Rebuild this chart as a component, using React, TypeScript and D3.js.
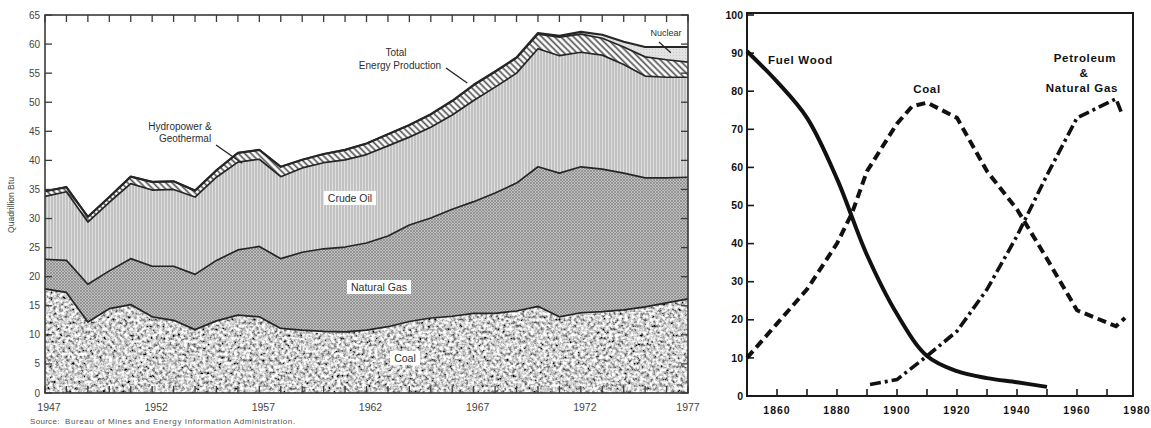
import React from "react";
import * as d3 from "d3";

// ---- left chart: U.S. energy production by source, quadrillion Btu ----
const years = d3.range(1947, 1978);
const coal = [17.9, 17.3, 12.2, 14.5, 15.2, 13.1, 12.5, 10.9, 12.4, 13.4, 13.1, 11.1, 10.8, 10.6, 10.5, 10.8, 11.4, 12.3, 12.9, 13.2, 13.7, 13.7, 14.1, 14.9, 13.1, 13.8, 14.0, 14.3, 14.8, 15.5, 16.2];
const naturalGas = [5.1, 5.5, 6.5, 6.5, 7.9, 8.7, 9.3, 9.5, 10.4, 11.2, 12.1, 12.0, 13.4, 14.2, 14.6, 15.0, 15.6, 16.6, 17.2, 18.4, 19.2, 20.7, 22.0, 24.0, 24.7, 25.1, 24.5, 23.5, 22.2, 21.5, 20.9];
const crudeOil = [10.8, 11.8, 10.7, 11.8, 12.9, 13.1, 13.2, 13.3, 14.3, 15.1, 15.0, 14.1, 14.5, 14.8, 15.0, 15.2, 15.5, 15.1, 15.6, 16.2, 17.4, 18.2, 18.9, 20.3, 20.2, 19.7, 19.6, 18.7, 17.5, 17.3, 17.2];
const hydroGeo = [0.9, 0.8, 0.9, 0.9, 1.2, 1.4, 1.4, 1.1, 1.2, 1.6, 1.6, 1.7, 1.4, 1.5, 1.7, 1.9, 2.0, 2.1, 2.2, 2.4, 2.6, 2.6, 2.6, 2.5, 3.2, 3.1, 2.9, 3.0, 3.3, 3.0, 2.6];
const nuclear = [0, 0, 0, 0, 0, 0, 0, 0, 0, 0, 0, 0, 0, 0, 0, 0, 0, 0, 0.05, 0.05, 0.1, 0.1, 0.1, 0.2, 0.2, 0.4, 0.6, 0.9, 1.7, 2.2, 2.6];
const leftYTicks = d3.range(0, 70, 5);
const leftYearLabels = [1947, 1952, 1957, 1962, 1967, 1972, 1977];

// ---- right chart: share of energy consumption, percent ----
const woodYears = [1850, 1860, 1870, 1880, 1890, 1900, 1910, 1920, 1930, 1940, 1950];
const fuelWood = [90.5, 82.5, 73, 57, 37, 21.5, 10.5, 6.5, 4.7, 3.6, 2.4];
const coalYears = [1850, 1860, 1870, 1880, 1885, 1890, 1900, 1905, 1910, 1920, 1930, 1940, 1950, 1960, 1973, 1976];
const coalShare = [10, 19, 28, 40, 48, 59, 71.5, 76, 77, 73, 59, 49, 36, 22.5, 18.3, 20.5];
const petroYears = [1891, 1900, 1910, 1920, 1930, 1940, 1950, 1960, 1973, 1975];
const petroShare = [3, 4.3, 10.5, 17, 28, 42, 58, 73, 78, 74];
const rightYTicks = d3.range(0, 110, 10);
const rightXTicks = d3.range(1860, 1980, 10);
const rightXLabels = [1860, 1880, 1900, 1920, 1940, 1960, 1980];

const sans = "'Liberation Sans', Arial, Helvetica, sans-serif";
const ink = "#2e2e2e";

function EnergyProduction() {
  const x = d3.scaleLinear().domain([1947, 1977]).range([45, 688]);
  const y = d3.scaleLinear().domain([0, 65]).range([393, 15]);

  const rows = years.map((yr, i) => ({
    year: yr,
    coal: coal[i],
    gas: naturalGas[i],
    oil: crudeOil[i],
    hydro: hydroGeo[i],
    nuclear: nuclear[i],
  }));
  const keys = ["coal", "gas", "oil", "hydro", "nuclear"];
  const series = d3.stack().keys(keys)(rows as any);
  const area = d3
    .area<any>()
    .x((d) => x(d.data.year))
    .y0((d) => y(d[0]))
    .y1((d) => y(d[1]));
  const top = d3
    .line<any>()
    .x((d) => x(d.data.year))
    .y((d) => y(d[1]));
  const fills: Record<string, string> = {
    coal: "#000",
    gas: "url(#gasPat)",
    oil: "url(#oilPat)",
    hydro: "url(#hydroPat)",
    nuclear: "url(#nucPat)",
  };

  const boxLabel = (text: string, cx: number, cy: number, w: number) => (
    <g key={text}>
      <rect x={cx - w / 2} y={cy - 7} width={w} height={14} fill="#fff" />
      <text x={cx} y={cy} dy="0.35em" textAnchor="middle" fontSize={10.5} fill={ink}>
        {text}
      </text>
    </g>
  );

  return (
    <g fontFamily={sans}>
      {series.map((s) => (
        <path
          key={s.key}
          d={area(s) as string}
          fill={fills[s.key]}
          filter={s.key === "coal" ? "url(#stipple)" : undefined}
        />
      ))}
      {series.map((s, i) => (
        <path
          key={"l" + s.key}
          d={top(s) as string}
          fill="none"
          stroke="#262626"
          strokeWidth={i === 4 ? 2.2 : 1.7}
          strokeLinejoin="round"
        />
      ))}

      {/* frame and ticks */}
      <rect x={45} y={15} width={643} height={378} fill="none" stroke="#3a3a3a" strokeWidth={1.6} />
      {years.map((yr) => (
        <g key={yr} stroke="#3a3a3a" strokeWidth={1.3}>
          <line x1={x(yr)} x2={x(yr)} y1={393} y2={386} />
          <line x1={x(yr)} x2={x(yr)} y1={15} y2={22} />
        </g>
      ))}
      {leftYTicks.map((v) => (
        <g key={v}>
          <line x1={45} x2={52} y1={y(v)} y2={y(v)} stroke="#3a3a3a" strokeWidth={1.3} />
          <line x1={688} x2={681} y1={y(v)} y2={y(v)} stroke="#3a3a3a" strokeWidth={1.3} />
          <text x={40} y={y(v)} dy="0.35em" textAnchor="end" fontSize={10} fill="#444">
            {v}
          </text>
        </g>
      ))}
      {leftYearLabels.map((yr, i) => (
        <text
          key={yr}
          x={x(yr) + (i === leftYearLabels.length - 1 ? 0 : 4)}
          y={411}
          textAnchor="middle"
          fontSize={10.5}
          fill="#444"
        >
          {yr}
        </text>
      ))}
      <text
        transform="translate(14,205) rotate(-90)"
        textAnchor="middle"
        fontSize={8.5}
        fill="#444"
      >
        Quadrillion Btu
      </text>
      <text x={30} y={424} fontSize={8} fill="#555" letterSpacing={0.3}>
        Source:
      </text>
      <text x={65} y={424} fontSize={8} fill="#555" letterSpacing={0.6}>
        Bureau of Mines and Energy Information Administration.
      </text>

      {/* annotations */}
      <text x={180} y={130} textAnchor="middle" fontSize={10} fill={ink}>
        Hydropower &amp;
      </text>
      <text x={185} y={142} textAnchor="middle" fontSize={10} fill={ink}>
        Geothermal
      </text>
      <line x1={216} y1={145} x2={x(1956.2)} y2={y(39.5)} stroke="#222" strokeWidth={1.3} />

      <text x={396} y={56} textAnchor="middle" fontSize={10} fill={ink}>
        Total
      </text>
      <text x={400} y={69} textAnchor="middle" fontSize={10} fill={ink}>
        Energy Production
      </text>
      <line x1={446} y1={68} x2={x(1966.7)} y2={y(53.3)} stroke="#222" strokeWidth={1.3} />

      <text x={666} y={36} textAnchor="middle" fontSize={9} fill={ink}>
        Nuclear
      </text>
      <line x1={659} y1={42} x2={x(1976.2)} y2={y(58.5)} stroke="#222" strokeWidth={1.2} />

      {boxLabel("Crude Oil", 350, 198, 52)}
      {boxLabel("Natural Gas", 379, 287, 64)}
      {boxLabel("Coal", 405, 358, 30)}
    </g>
  );
}

function FuelShares() {
  const x = d3.scaleLinear().domain([1850, 1980]).range([747, 1137]);
  const y = d3.scaleLinear().domain([0, 100]).range([396, 15]);

  const woodPath = d3
    .line<number>()
    .x((_, i) => x(woodYears[i]))
    .y((d) => y(d))
    .curve(d3.curveCatmullRom.alpha(0.5))(fuelWood) as string;
  const coalPath = d3
    .line<number>()
    .x((_, i) => x(coalYears[i]))
    .y((d) => y(d))(coalShare) as string;
  const petroPath = d3
    .line<number>()
    .x((_, i) => x(petroYears[i]))
    .y((d) => y(d))(petroShare) as string;

  const lbl = { fontSize: 11.5, fontWeight: 700, fill: "#111", letterSpacing: 0.7 } as const;

  return (
    <g fontFamily={sans}>
      <rect x={747} y={13} width={386} height={383} fill="none" stroke="#1a1a1a" strokeWidth={2} />
      {rightYTicks.map((v) => (
        <g key={v}>
          <line x1={747} x2={754} y1={y(v)} y2={y(v)} stroke="#1a1a1a" strokeWidth={1.6} />
          <text x={743} y={y(v)} dy="0.35em" textAnchor="end" fontSize={10.5} fontWeight={700} fill="#111">
            {v}
          </text>
        </g>
      ))}
      {rightXTicks.map((yr) => (
        <line key={yr} x1={x(yr)} x2={x(yr)} y1={396} y2={389} stroke="#1a1a1a" strokeWidth={1.6} />
      ))}
      {rightXLabels.map((yr) => (
        <text
          key={yr}
          x={x(yr)}
          y={414}
          textAnchor="middle"
          fontSize={10.5}
          fontWeight={700}
          fill="#111"
          letterSpacing={1}
        >
          {yr}
        </text>
      ))}

      <path d={woodPath} fill="none" stroke="#111" strokeWidth={4} />
      <path d={coalPath} fill="none" stroke="#111" strokeWidth={4} strokeDasharray="9,5" />
      <path d={petroPath} fill="none" stroke="#111" strokeWidth={3.6} strokeDasharray="11,4,3,4" />

      <text x={768} y={64} {...lbl}>
        Fuel Wood
      </text>
      <text x={927} y={93} textAnchor="middle" {...lbl}>
        Coal
      </text>
      <text x={1085} y={62} textAnchor="middle" {...lbl}>
        Petroleum
      </text>
      <text x={1084} y={77} textAnchor="middle" {...lbl}>
        &amp;
      </text>
      <text x={1082} y={92} textAnchor="middle" {...lbl}>
        Natural Gas
      </text>
    </g>
  );
}

export default function App() {
  return (
    <svg
      width={1151}
      height={428}
      viewBox="0 0 1151 428"
      style={{ position: "absolute", left: 0, top: 0, background: "#fff" }}
    >
      <defs>
        <filter id="stipple" filterUnits="userSpaceOnUse" x={0} y={0} width={1151} height={428}>
          <feTurbulence type="fractalNoise" baseFrequency={0.32} numOctaves={3} seed={7} result="noise" />
          <feColorMatrix
            in="noise"
            type="matrix"
            values="2.1 0 0 0 -0.42  2.1 0 0 0 -0.42  2.1 0 0 0 -0.42  0 0 0 0 1"
            result="gray"
          />
          <feComposite in="gray" in2="SourceGraphic" operator="in" />
        </filter>
        <pattern id="gasPat" width={3} height={3} patternUnits="userSpaceOnUse">
          <rect width={3} height={3} fill="#c0c0c0" />
          <path d="M0,0 L3,3 M3,0 L0,3" stroke="#828282" strokeWidth={0.7} />
        </pattern>
        <pattern id="oilPat" width={3} height={6} patternUnits="userSpaceOnUse">
          <rect width={3} height={6} fill="#e0e0e0" />
          <line x1={1} x2={1} y1={0} y2={6} stroke="#a2a2a2" strokeWidth={1} />
        </pattern>
        <pattern
          id="hydroPat"
          width={4.5}
          height={4.5}
          patternUnits="userSpaceOnUse"
          patternTransform="rotate(-45)"
        >
          <rect width={4.5} height={4.5} fill="#fff" />
          <line x1={1.5} x2={1.5} y1={0} y2={4.5} stroke="#555" strokeWidth={1.7} />
        </pattern>
        <pattern id="nucPat" width={3} height={3} patternUnits="userSpaceOnUse">
          <rect width={3} height={3} fill="#e2e2e2" />
          <circle cx={1.5} cy={1.5} r={0.5} fill="#c4c4c4" />
        </pattern>
      </defs>
      <rect width={1151} height={428} fill="#fff" />
      <EnergyProduction />
      <FuelShares />
    </svg>
  );
}
